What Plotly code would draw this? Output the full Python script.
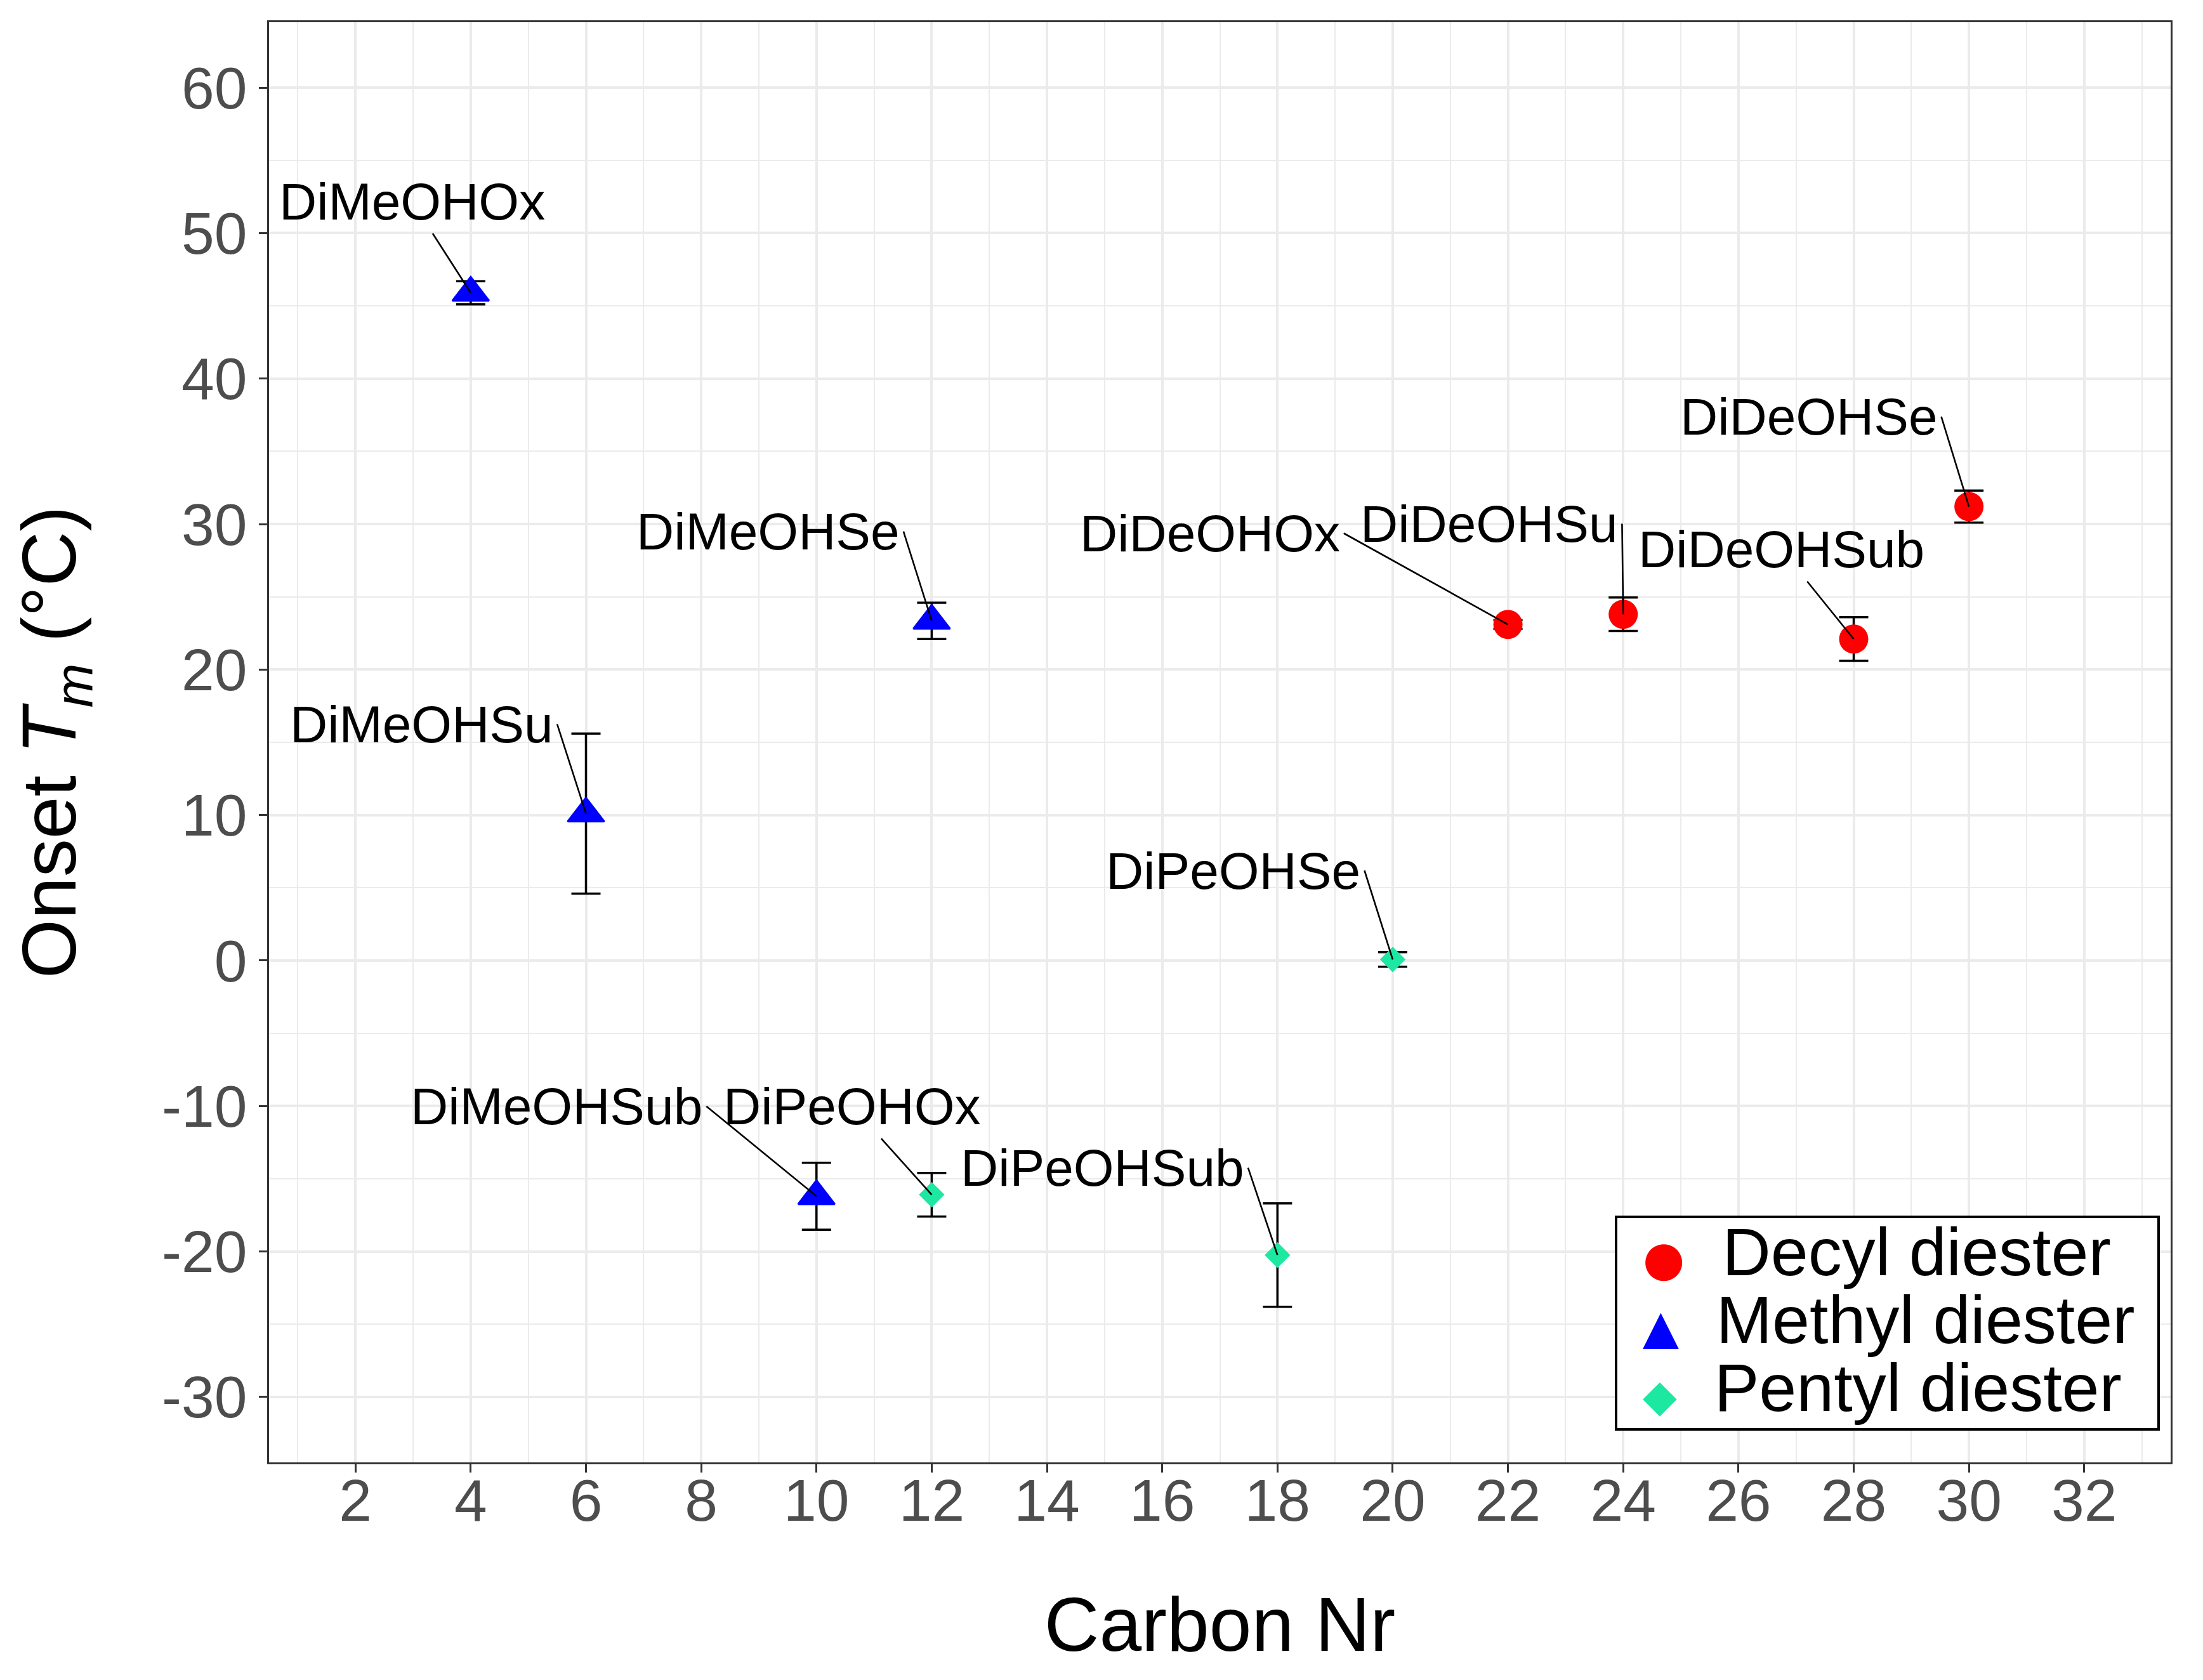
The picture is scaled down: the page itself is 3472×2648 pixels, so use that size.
import plotly.graph_objects as go

# ---------------- data ----------------
decyl_x = [22, 24, 28, 30]
decyl_y = [23.1, 23.8, 22.1, 31.2]
decyl_err = [0.3, 1.15, 1.5, 1.1]
decyl_labels = ["DiDeOHOx", "DiDeOHSu", "DiDeOHSub", "DiDeOHSe"]

methyl_x = [4, 6, 10, 12]
methyl_y = [45.9, 10.1, -16.2, 23.35]
methyl_err = [0.8, 5.5, 2.3, 1.25]
methyl_labels = ["DiMeOHOx", "DiMeOHSu", "DiMeOHSub", "DiMeOHSe"]

pentyl_x = [12, 18, 20]
pentyl_y = [-16.1, -20.25, 0.07]
pentyl_err = [1.5, 3.55, 0.5]
pentyl_labels = ["DiPeOHOx", "DiPeOHSub", "DiPeOHSe"]

series_names = ["Decyl diester", "Methyl diester", "Pentyl diester"]
x_ticks = list(range(2, 34, 2))
y_ticks = list(range(-30, 70, 10))

# ---------------- styles ----------------
colors = ["#FF0000", "#0000FF", "#1DE8A2"]
symbols = ["circle", "triangle-up", "diamond"]
sizes = [46, 50, 31]
glyphs = ["\u25CF", "\u25B2", "\u25C6"]
glyph_sizes = [76, 74, 70]
FONT = "Liberation Sans, Arial, sans-serif"

# label placement: (tail x, tail y, xanchor, yanchor) in data units
label_place = {
    "DiMeOHOx": (2.98, 52.2, "center", "middle"),
    "DiMeOHSe": (11.51, 29.5, "right", "middle"),
    "DiMeOHSu": (5.50, 16.25, "right", "middle"),
    "DiMeOHSub": (8.09, -10.02, "right", "middle"),
    "DiPeOHOx": (10.62, -10.02, "center", "middle"),
    "DiPeOHSub": (17.49, -14.25, "right", "middle"),
    "DiPeOHSe": (19.51, 6.19, "right", "middle"),
    "DiDeOHOx": (19.15, 29.37, "right", "middle"),
    "DiDeOHSu": (23.98, 30.02, "right", "middle"),
    "DiDeOHSub": (26.74, 28.28, "center", "middle"),
    "DiDeOHSe": (29.52, 37.39, "right", "middle"),
}

series = [
    (decyl_x, decyl_y, decyl_err, decyl_labels),
    (methyl_x, methyl_y, methyl_err, methyl_labels),
    (pentyl_x, pentyl_y, pentyl_err, pentyl_labels),
]

fig = go.Figure()

for i, (xs, ys, es, labs) in enumerate(series):
    line_w = 3 if symbols[i] == "triangle-up" else 0
    fig.add_trace(go.Scatter(
        x=xs, y=ys, mode="markers", name=series_names[i], showlegend=False,
        marker=dict(symbol=symbols[i], size=sizes[i], color=colors[i],
                    line=dict(width=line_w, color=colors[i])),
        error_y=dict(type="data", array=es, visible=True, color="black",
                     thickness=3.5, width=23),
        hoverinfo="skip",
    ))

# legend entries (large glyph symbols as part of the legend text)
for i in range(3):
    fig.add_trace(go.Scatter(
        x=[None], y=[None], mode="lines", line=dict(width=0, color=colors[i]),
        name=("<span style='color:%s;font-family:DejaVu Sans;font-size:%dpx'>%s</span>"
              "<span style='font-size:106px'>\u00a0\u00a0%s\u00a0</span>")
             % (colors[i], glyph_sizes[i], glyphs[i], series_names[i]),
        showlegend=True,
    ))

annotations = []
for i, (xs, ys, es, labs) in enumerate(series):
    for x, y, lab in zip(xs, ys, labs):
        ax, ay, xa, ya = label_place[lab]
        annotations.append(dict(
            x=x, y=y, xref="x", yref="y", ax=ax, ay=ay, axref="x", ayref="y",
            text=lab, showarrow=True, arrowhead=0, arrowwidth=2.6,
            arrowcolor="black", standoff=0, startstandoff=0,
            xanchor=xa, yanchor=ya, borderpad=5,
            font=dict(family=FONT, size=82, color="black"),
        ))

grid_col = "#EBEBEB"
fig.update_layout(
    width=3472, height=2648,
    margin=dict(l=424, r=51, t=35, b=343, autoexpand=False),
    paper_bgcolor="white", plot_bgcolor="white",
    font=dict(family=FONT, color="black"),
    annotations=annotations,
    showlegend=True,
    legend=dict(
        x=0.9943, y=0.022, xanchor="right", yanchor="bottom",
        bgcolor="white", bordercolor="black", borderwidth=4,
        font=dict(family=FONT, size=80, color="black"),
        itemwidth=30, tracegroupgap=0,
    ),
    xaxis=dict(
        range=[0.5, 33.5], tickmode="array", tickvals=x_ticks,
        ticktext=[str(v) for v in x_ticks],
        showgrid=True, gridcolor=grid_col, gridwidth=4,
        minor=dict(tick0=0, dtick=1, showgrid=True, gridcolor=grid_col, gridwidth=2.2),
        ticks="outside", ticklen=13, tickwidth=3, tickcolor="#333333",
        tickfont=dict(family=FONT, size=93, color="#4D4D4D"),
        ticklabelstandoff=-36,
        showline=True, linecolor="#333333", linewidth=3, mirror=True,
        zeroline=False, automargin=False,
        title=dict(text="Carbon Nr", font=dict(family=FONT, size=120, color="black"),
                   standoff=103),
    ),
    yaxis=dict(
        range=[-34.5, 64.5], tickmode="array", tickvals=y_ticks,
        ticktext=[str(v) for v in y_ticks],
        showgrid=True, gridcolor=grid_col, gridwidth=4,
        minor=dict(tick0=-35, dtick=5, showgrid=True, gridcolor=grid_col, gridwidth=2.2),
        ticks="outside", ticklen=13, tickwidth=3, tickcolor="#333333",
        tickfont=dict(family=FONT, size=93, color="#4D4D4D"),
        showline=True, linecolor="#333333", linewidth=3, mirror=True,
        zeroline=False, automargin=False,
        title=dict(text="Onset <i>T</i><sub><i>m</i></sub> (°C)",
                   font=dict(family=FONT, size=120, color="black"), standoff=95),
    ),
)

fig.write_html("out.html", config={"displayModeBar": False},
               post_script="document.body.style.margin='0';")
